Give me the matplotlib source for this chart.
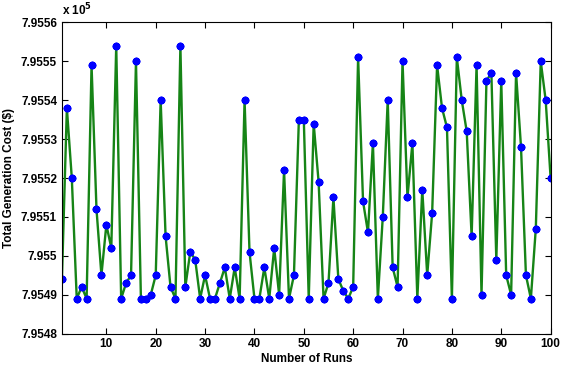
import matplotlib
matplotlib.use("Agg")
import matplotlib.pyplot as plt
import numpy as np

plt.rcParams['font.family'] = ['Liberation Sans', 'DejaVu Sans']

# total generation cost ($) for each run
runs = list(range(1, 101))
cost = [
    795494, 795538, 795520, 795489, 795492, 795489, 795549, 795512, 795495, 795508,
    795502, 795554, 795489, 795493, 795495, 795550, 795489, 795489, 795490, 795495,
    795540, 795505, 795492, 795489, 795554, 795492, 795501, 795499, 795489, 795495,
    795489, 795489, 795493, 795497, 795489, 795497, 795489, 795540, 795501, 795489,
    795489, 795497, 795489, 795502, 795490, 795522, 795489, 795495, 795535, 795535,
    795489, 795534, 795519, 795489, 795493, 795515, 795494, 795491, 795489, 795492,
    795551, 795514, 795506, 795529, 795489, 795510, 795540, 795497, 795492, 795550,
    795515, 795529, 795489, 795517, 795495, 795511, 795549, 795538, 795533, 795489,
    795551, 795540, 795532, 795505, 795549, 795490, 795545, 795547, 795499, 795545,
    795495, 795490, 795547, 795528, 795495, 795489, 795507, 795550, 795540, 795520,
]
y_ticks = [7.9548, 7.9549, 7.9550, 7.9551, 7.9552, 7.9553, 7.9554, 7.9555, 7.9556]
x_ticks = [10, 20, 30, 40, 50, 60, 70, 80, 90, 100]

fig = plt.figure(figsize=(5.63, 3.74), dpi=100)
ax = fig.add_axes([0.110, 0.108, 0.868, 0.832])

y = np.array(cost) / 1e5
ax.plot(runs, y, color='#168416', linewidth=1.7, marker=(8, 2, 0), markersize=5.5,
        markerfacecolor='#0000ff', markeredgecolor='#0000ff', markeredgewidth=1.6)

ax.set_xlim(1, 100)
ax.set_ylim(7.9548, 7.9556)
ax.set_xticks(x_ticks)
ax.set_xticklabels([str(t) for t in x_ticks], fontweight='bold', fontsize=8.5)
ax.set_yticks(y_ticks)
ax.set_yticklabels([f"{round(t, 4):g}" for t in y_ticks], fontweight='bold', fontsize=8.5)
ax.tick_params(direction='in', top=True, right=True, length=4, width=0.8)
for s in ax.spines.values():
    s.set_linewidth(0.8)

ax.set_xlabel('Number of Runs', fontweight='bold', fontsize=8.5, labelpad=2)
ax.set_ylabel('Total Generation Cost ($)', fontweight='bold', fontsize=8.5, labelpad=4)
fig.text(0.110, 0.958, r'x 10$^{\mathbf{5}}$', fontweight='bold', fontsize=8.5,
         ha='left', va='baseline')

fig.savefig('out.png', dpi=100)
